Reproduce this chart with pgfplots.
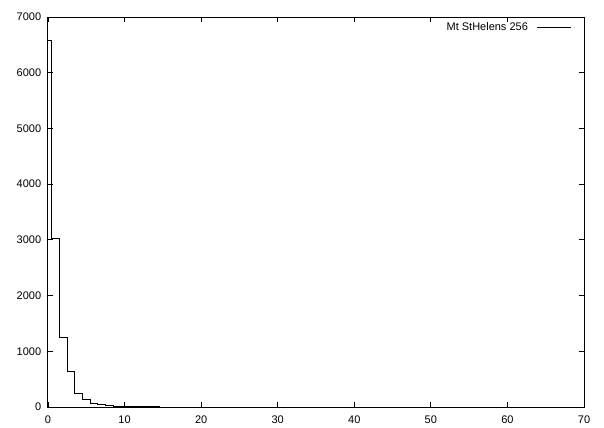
\documentclass[border=0pt]{standalone}
\usepackage{fontspec}
\setmainfont{Liberation Sans}
\usepackage{pgfplots}
\pgfplotsset{compat=1.18}
\begin{document}
\fontsize{11bp}{13bp}\selectfont
\begin{tikzpicture}
\useasboundingbox (-48bp,-21bp) rectangle (556bp,407bp);
\begin{axis}[
  at={(0,0)}, anchor=south west,
  scale only axis, width=536bp, height=390bp,
  xmin=0, xmax=70, ymin=0, ymax=7000,
  xtick={0,10,...,70}, ytick={0,1000,...,7000},
  tick align=inside, tick pos=both,
  major tick length=5bp,
  axis line style={line width=1bp},
  every tick/.style={black, line width=0.8bp},
  /pgf/number format/assume math mode=true,
  /pgf/number format/set thousands separator={},
  tick label style={font=\fontsize{11bp}{13bp}\selectfont},
  yticklabel style={xshift=-3bp},
  xticklabel style={yshift=-5bp},
  legend plot pos=right,
  legend cell align=right,
  legend style={at={(rel axis cs:1,1)}, anchor=north east, draw=none, fill=none,
    xshift=-9bp, yshift=-1bp, font=\fontsize{11bp}{13bp}\selectfont},
  legend image code/.code={\draw[black, line width=0.9bp] (0bp,0bp) -- (34bp,0bp);},
]
\addplot[black, line width=0.9bp, const plot mark mid] coordinates {
(0,6580) (1,3030) (2,1240) (3,640) (4,246) (5,143) (6,66) (7,42) (8,24)
(9,12) (10,6) (11,4) (12,3) (13,2) (14,1) (15,0) (70,0)
};
\addlegendentry{Mt StHelens 256\hspace*{7bp}}
\end{axis}
\end{tikzpicture}
\end{document}
